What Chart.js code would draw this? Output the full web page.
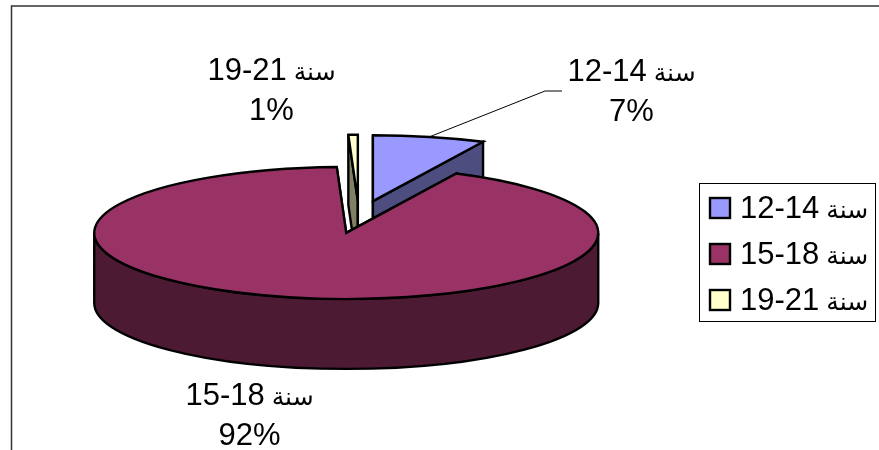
<!DOCTYPE html>
<html>
<head>
<meta charset="utf-8">
<style>
  html, body { margin: 0; padding: 0; background: #fff; overflow: hidden; }
  canvas { display: block; }
</style>
<script src="https://cdn.jsdelivr.net/npm/chart.js@4"></script>
</head>
<body>
<canvas id="pieChart" width="879" height="450"></canvas>
<script>
const ageRanges = ['12-14', '15-18', '19-21'];
const yearWord = 'سنة';
const shares = [7.2, 92.2, 0.6];

const faceColors = ['#9999ff', '#993366', '#ffffcc'];
const sideColors = ['#4d4d80', '#4d1a33', '#808066'];

const DIGIT_FONT = '31px "Liberation Sans", sans-serif';
const WORD_FONT = '25px "DejaVu Sans", sans-serif';
const OUTLINE = 2.4;

// where the flattened pie sits on the page
const PIE = { cx: 359, cy: 217, rx: 252, ry: 66, depth: 70, explode: 62 };

// label anchors, same order as ageRanges
const labelSpots = [
  { x: 631.5, y: 81 },
  { x: 249.5, y: 405 },
  { x: 271.5, y: 80 },
];

function sliceOrigin(arc) {
  const mid = (arc.startAngle + arc.endAngle) / 2;
  return {
    x: PIE.cx + Math.cos(mid) * PIE.explode,
    y: PIE.cy + Math.sin(mid) * PIE.explode * (PIE.ry / PIE.rx),
  };
}

function edgePoint(origin, angle) {
  return { x: origin.x + Math.cos(angle) * PIE.rx, y: origin.y + Math.sin(angle) * PIE.ry };
}

function paintPath(ctx, fill) {
  ctx.fillStyle = fill;
  ctx.fill();
  ctx.lineWidth = OUTLINE;
  ctx.strokeStyle = '#000';
  ctx.stroke();
}

function drawRadialWall(ctx, origin, angle, color) {
  const p = edgePoint(origin, angle);
  ctx.beginPath();
  ctx.moveTo(origin.x, origin.y);
  ctx.lineTo(p.x, p.y);
  ctx.lineTo(p.x, p.y + PIE.depth);
  ctx.lineTo(origin.x, origin.y + PIE.depth);
  ctx.closePath();
  paintPath(ctx, color);
}

function drawSlice(ctx, arc, index) {
  const origin = sliceOrigin(arc);
  const side = sideColors[index];

  drawRadialWall(ctx, origin, arc.startAngle, side);
  drawRadialWall(ctx, origin, arc.endAngle, side);

  // only the front half of the rim can be seen
  const from = Math.max(arc.startAngle, 0);
  const to = Math.min(arc.endAngle, Math.PI);
  if (to > from) {
    ctx.beginPath();
    ctx.ellipse(origin.x, origin.y, PIE.rx, PIE.ry, 0, from, to);
    ctx.ellipse(origin.x, origin.y + PIE.depth, PIE.rx, PIE.ry, 0, to, from, true);
    ctx.closePath();
    paintPath(ctx, side);
  }

  // top face: the library's own arc, squashed into the ellipse
  const scale = arc.outerRadius;
  ctx.save();
  ctx.translate(origin.x, origin.y);
  ctx.scale(PIE.rx / scale, PIE.ry / scale);
  ctx.translate(-arc.x, -arc.y);
  arc.draw(ctx);
  ctx.restore();

  ctx.beginPath();
  ctx.moveTo(origin.x, origin.y);
  ctx.ellipse(origin.x, origin.y, PIE.rx, PIE.ry, 0, arc.startAngle, arc.endAngle);
  ctx.closePath();
  ctx.lineWidth = OUTLINE;
  ctx.strokeStyle = '#000';
  ctx.stroke();
}

function drawFrame(ctx) {
  ctx.beginPath();
  ctx.moveTo(11.5, 452);
  ctx.lineTo(11.5, 6);
  ctx.lineTo(881, 6);
  ctx.lineWidth = 1.5;
  ctx.strokeStyle = '#333';
  ctx.stroke();
}

function drawLeader(ctx, arc) {
  const origin = sliceOrigin(arc);
  const start = edgePoint(origin, (arc.startAngle + arc.endAngle) / 2);
  ctx.beginPath();
  ctx.moveTo(start.x, start.y);
  ctx.lineTo(545, 91);
  ctx.lineTo(562, 91);
  ctx.lineWidth = 1;
  ctx.strokeStyle = '#000';
  ctx.stroke();
}

// digits and word use different fonts, so they are measured and placed one after the other
function drawRangeText(ctx, range, x, y) {
  ctx.textAlign = 'left';
  ctx.textBaseline = 'alphabetic';
  ctx.fillStyle = '#000';
  ctx.font = DIGIT_FONT;
  ctx.fillText(range, x, y);
  const digitsWidth = ctx.measureText(range).width;
  ctx.font = WORD_FONT;
  ctx.fillText(yearWord, x + digitsWidth + 7, y);
}

function rangeTextWidth(ctx, range) {
  ctx.font = DIGIT_FONT;
  const digitsWidth = ctx.measureText(range).width;
  ctx.font = WORD_FONT;
  return digitsWidth + 7 + ctx.measureText(yearWord).width;
}

function drawLabels(ctx) {
  ageRanges.forEach((range, i) => {
    const spot = labelSpots[i];
    drawRangeText(ctx, range, spot.x - rangeTextWidth(ctx, range) / 2, spot.y);
    ctx.font = DIGIT_FONT;
    ctx.textAlign = 'center';
    ctx.fillText(Math.round(shares[i]) + '%', spot.x, spot.y + 40);
  });
}

function drawLegend(ctx) {
  ctx.fillStyle = '#fff';
  ctx.fillRect(699.5, 183.5, 176, 138);
  ctx.lineWidth = 1;
  ctx.strokeStyle = '#000';
  ctx.strokeRect(699.5, 183.5, 176, 138);

  ageRanges.forEach((range, i) => {
    const top = 198 + i * 46;
    ctx.fillStyle = faceColors[i];
    ctx.fillRect(710, top, 20, 20);
    ctx.lineWidth = 2.4;
    ctx.strokeStyle = '#000';
    ctx.strokeRect(710, top, 20, 20);
    drawRangeText(ctx, range, 740, top + 20);
  });
}

const pie3d = {
  id: 'pie3d',
  beforeDatasetsDraw(chart) {
    const ctx = chart.ctx;
    const arcs = chart.getDatasetMeta(0).data;
    drawFrame(ctx);
    // back slices first, the big one sits in front of them
    [2, 0, 1].forEach((i) => drawSlice(ctx, arcs[i], i));
    drawLeader(ctx, arcs[0]);
    drawLabels(ctx);
    drawLegend(ctx);
    return false;
  },
};

new Chart(document.getElementById('pieChart').getContext('2d'), {
  type: 'pie',
  data: {
    labels: ageRanges.map((range) => range + ' ' + yearWord),
    datasets: [{ data: shares, backgroundColor: faceColors, borderWidth: 0 }],
  },
  options: {
    responsive: false,
    animation: false,
    plugins: {
      legend: { display: false },
      tooltip: { enabled: false },
    },
  },
  plugins: [pie3d],
});
</script>
</body>
</html>
